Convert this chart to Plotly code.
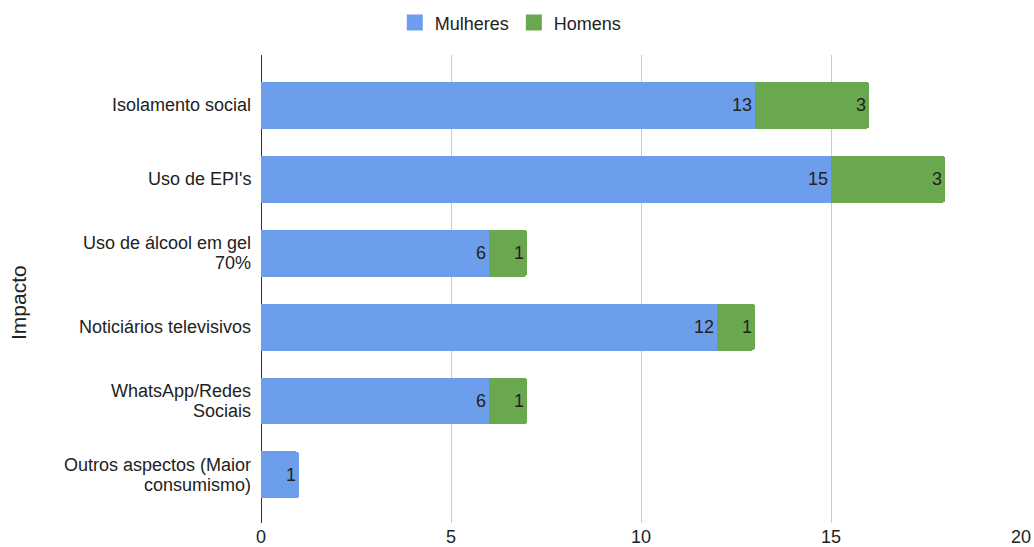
import plotly.graph_objects as go

categories = [
    "Isolamento social",
    "Uso de EPI's",
    "Uso de álcool em gel\n70%",
    "Noticiários televisivos",
    "WhatsApp/Redes\nSociais",
    "Outros aspectos (Maior\nconsumismo)",
]
mulheres = [13, 15, 6, 12, 6, 1]
homens = [3, 3, 1, 1, 1, None]

series = [("Mulheres", mulheres, "#6d9eeb"), ("Homens", homens, "#6aa84f")]

FONT = "Liberation Sans, Arial, sans-serif"
TEXT = "#222222"
LINE_STEP = 19.5  # pixel spacing between wrapped category label lines

fig = go.Figure()
for name, values, color in series:
    fig.add_trace(go.Bar(
        name=name, y=categories, x=values, orientation="h",
        marker=dict(color=color, line=dict(width=0)),
        text=[("" if v is None else v) for v in values],
        textposition="inside", insidetextanchor="end",
        textfont=dict(family=FONT, size=18, color=TEXT),
        width=0.635, hoverinfo="x+name", showlegend=False,
    ))

# legend entries with larger square swatches
for name, values, color in series:
    fig.add_trace(go.Scatter(
        name=name, x=[None], y=[None], mode="markers",
        marker=dict(symbol="square", size=16, color=color),
        showlegend=True, hoverinfo="skip",
    ))

# category labels, one annotation per line for tight line spacing
annotations = []
for cat in categories:
    lines = cat.split("\n")
    n = len(lines)
    for i, line in enumerate(lines):
        annotations.append(dict(
            text=line, xref="paper", yref="y", x=0, y=cat,
            xanchor="right", yanchor="middle", xshift=-8,
            yshift=((n - 1) / 2 - i) * LINE_STEP,
            showarrow=False, font=dict(family=FONT, size=18, color=TEXT),
        ))

annotations.append(dict(
    text="Impacto", xref="paper", yref="paper",
    x=0, xshift=-243, y=0.47, xanchor="center", yanchor="middle",
    textangle=-90, showarrow=False,
    font=dict(family=FONT, size=21, color=TEXT),
))

fig.update_layout(
    width=1034, height=547,
    barmode="stack", barcornerradius=3,
    paper_bgcolor="white", plot_bgcolor="white",
    margin=dict(l=261, r=13, t=55, b=24),
    font=dict(family=FONT, size=18, color=TEXT),
    uniformtext=dict(mode="show", minsize=10),
    legend=dict(
        orientation="h", xref="container", x=0.494, xanchor="center",
        yref="container", y=0.992, yanchor="top",
        font=dict(family=FONT, size=18, color=TEXT),
        itemwidth=30, traceorder="normal",
    ),
    xaxis=dict(
        range=[0, 20], tickvals=[0, 5, 10, 15, 20],
        showgrid=True, gridcolor="#cccccc", gridwidth=1,
        zeroline=True, zerolinecolor="#333333", zerolinewidth=1,
        showline=False, ticks="", ticklabelstandoff=1,
        tickfont=dict(family=FONT, size=18, color=TEXT),
        automargin=False, fixedrange=True,
    ),
    yaxis=dict(
        categoryorder="array", categoryarray=categories,
        range=[5.65, -0.68], showgrid=False, zeroline=False,
        showline=False, showticklabels=False, ticks="",
        automargin=False, fixedrange=True,
    ),
    annotations=annotations,
)

fig.write_html("out.html")
